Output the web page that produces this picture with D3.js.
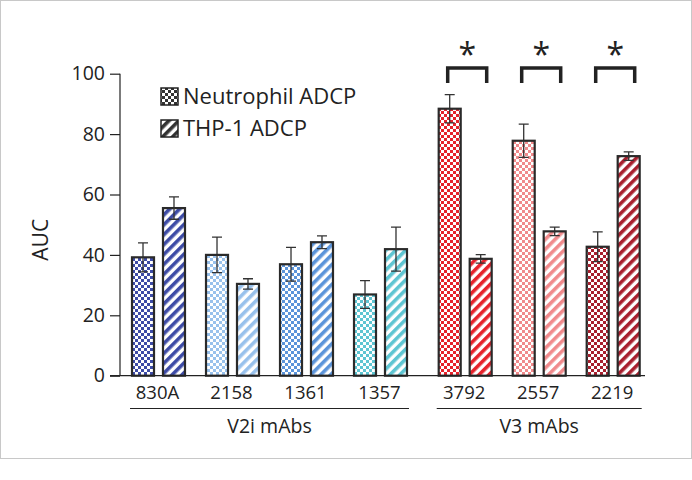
<!DOCTYPE html>
<html><head><meta charset="utf-8">
<script src="https://cdn.jsdelivr.net/npm/d3@7/dist/d3.min.js"></script>
<style>body{margin:0;background:#fff}svg{display:block;font-family:"Open Sans",sans-serif}</style>
</head><body><svg id="c" width="692" height="480"></svg>
<script>
const groups = ["V2i mAbs", "V3 mAbs"];
const antibodies = ["830A", "2158", "1361", "1357", "3792", "2557", "2219"];
const groupOf = ["V2i mAbs", "V2i mAbs", "V2i mAbs", "V2i mAbs", "V3 mAbs", "V3 mAbs", "V3 mAbs"];
const colors = ["#3d4ba6", "#98c1ec", "#5b94da", "#5ec5d2", "#e6222b", "#f08a8c", "#a81f2e"];
const neutrophil = [39.2, 40.0, 36.9, 26.9, 88.4, 77.8, 42.7];
const neutrophilErr = [4.8, 5.9, 5.6, 4.6, 4.7, 5.5, 4.9];
const thp1 = [55.5, 30.4, 44.2, 41.9, 38.7, 47.8, 72.7];
const thp1Err = [3.7, 1.7, 2.1, 7.3, 1.4, 1.4, 1.4];
const series = ["Neutrophil ADCP", "THP-1 ADCP"];
const yTicks = [0, 20, 40, 60, 80, 100];
const significant = ["3792", "2557", "2219"];

const svg = d3.select("#c");
svg.append("rect").attr("x",0.5).attr("y",0.5).attr("width",691).attr("height",458)
  .attr("fill","none").attr("stroke","#c8c8c8").attr("stroke-width",1);

const y = d3.scaleLinear().domain([0,100]).range([375.7, 73.7]);
const xg = {
  "V2i mAbs": d3.scaleBand().domain(antibodies.filter((a,i)=>groupOf[i]==="V2i mAbs")).range([121.5, 417.5]).paddingInner(0.284).paddingOuter(0.142),
  "V3 mAbs": d3.scaleBand().domain(antibodies.filter((a,i)=>groupOf[i]==="V3 mAbs")).range([428.2, 650.2]).paddingInner(0.284).paddingOuter(0.142)
};
const sub = d3.scaleBand().domain(series).range([0, xg["V2i mAbs"].bandwidth()]).paddingInner(0.29);
const xOf = (i) => xg[groupOf[i]](antibodies[i]);

const defs = svg.append("defs");
function checker(id, col){
  const p = defs.append("pattern").attr("id",id).attr("patternUnits","userSpaceOnUse").attr("width",6).attr("height",6);
  p.append("rect").attr("width",6).attr("height",6).attr("fill","#fff");
  p.append("rect").attr("width",3).attr("height",3).attr("fill",col);
  p.append("rect").attr("x",3).attr("y",3).attr("width",3).attr("height",3).attr("fill",col);
}
function stripes(id, col){
  const p = defs.append("pattern").attr("id",id).attr("patternUnits","userSpaceOnUse").attr("width",7).attr("height",7)
    .attr("patternTransform","rotate(45)");
  p.append("rect").attr("width",7).attr("height",7).attr("fill","#fff");
  p.append("rect").attr("width",3.6).attr("height",7).attr("fill",col);
}
colors.forEach((c,i)=>{ checker("ck"+i, c); stripes("st"+i, c); });
checker("ckL", "#333"); stripes("stL", "#333");

const yAxis = svg.append("g").attr("transform","translate(120,0)")
  .call(d3.axisLeft(y).tickValues(yTicks).tickSize(10).tickPadding(5));
yAxis.select(".domain").attr("stroke","#222").attr("stroke-width",1.2).attr("d","M0,"+y(100)+"V"+y(0));
yAxis.selectAll(".tick line").attr("stroke","#222").attr("stroke-width",1.2);
yAxis.selectAll("text").attr("font-size",19.5).attr("fill","#222").attr("font-family","Open Sans");
svg.append("text").attr("transform","translate(48,"+y(45)+") rotate(-90)").attr("text-anchor","middle")
  .attr("font-size",21).attr("fill","#222").text("AUC");

const data = antibodies.map((a,i)=>({a,i}));
const barG = svg.append("g");
[ [neutrophil, neutrophilErr, "ck"], [thp1, thp1Err, "st"] ].forEach(([vals, errs, pat], si)=>{
  data.forEach(d=>{
    const x0 = xOf(d.i) + sub(series[si]);
    const w = sub.bandwidth();
    const cx = x0 + w/2;
    barG.append("path").attr("d",
      `M${cx},${y(vals[d.i]+errs[d.i])}V${y(vals[d.i]-errs[d.i])}M${cx-5},${y(vals[d.i]+errs[d.i])}H${cx+5}M${cx-5},${y(vals[d.i]-errs[d.i])}H${cx+5}`)
      .attr("stroke","#333").attr("stroke-width",1.3).attr("fill","none");
    barG.append("rect").attr("x",x0).attr("y",y(vals[d.i])).attr("width",w).attr("height",y(0)-y(vals[d.i]))
      .attr("fill",`url(#${pat}${d.i})`).attr("stroke","#2a2a2a").attr("stroke-width",2.2);
    barG.append("path").attr("d",
      `M${cx},${y(vals[d.i])}V${y(vals[d.i]-errs[d.i])}M${cx-5},${y(vals[d.i]-errs[d.i])}H${cx+5}`)
      .attr("stroke","#333").attr("stroke-width",1.3).attr("fill","none");
  });
});

svg.append("line").attr("x1",110).attr("x2",645).attr("y1",y(0)).attr("y2",y(0)).attr("stroke","#222").attr("stroke-width",1.2);

data.forEach(d=>{
  svg.append("text").attr("x", xOf(d.i) + xg[groupOf[d.i]].bandwidth()/2 - 1).attr("y", 399)
    .attr("text-anchor","middle").attr("font-size",18.5).attr("fill","#222").text(d.a);
});
groups.forEach(g=>{
  const dom = xg[g].domain();
  const x1 = xg[g](dom[0]) - 2, x2 = xg[g](dom[dom.length-1]) + xg[g].bandwidth() + 2;
  svg.append("line").attr("x1",x1).attr("x2",x2).attr("y1",408.5).attr("y2",408.5).attr("stroke","#222").attr("stroke-width",1.2);
  svg.append("text").attr("x",(x1+x2)/2).attr("y",433).attr("text-anchor","middle").attr("font-size",19.5).attr("fill","#222").text(g);
});

significant.forEach(a=>{
  const i = antibodies.indexOf(a);
  const cx = xOf(i) + xg[groupOf[i]].bandwidth()/2 + 2;
  svg.append("path").attr("d",`M${cx-19.5},83V68H${cx+19.5}V83`).attr("fill","none")
    .attr("stroke","#222").attr("stroke-width",3.5);
  svg.append("text").attr("x",cx).attr("y",66).attr("text-anchor","middle").attr("font-size",32).attr("fill","#222").text("*");
});

series.forEach((s,si)=>{
  const ly = 88 + si*32;
  svg.append("rect").attr("x",161).attr("y",ly).attr("width",17).attr("height",17)
    .attr("fill", si===0 ? "url(#ckL)" : "url(#stL)").attr("stroke","#222").attr("stroke-width",1.5);
  svg.append("text").attr("x",183).attr("y",ly+15.5).attr("font-size",22).attr("fill","#222").text(s);
});
</script></body></html>
